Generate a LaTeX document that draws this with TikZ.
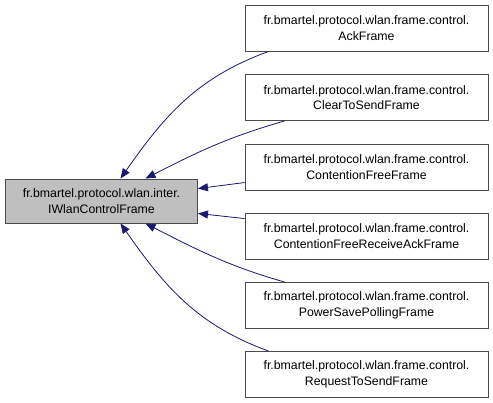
\documentclass[tikz,border=0pt]{standalone}
\usepackage{fontspec}
\setmainfont{Liberation Sans}
\usetikzlibrary{arrows.meta}
\definecolor{edgeblue}{RGB}{25,25,112}
\begin{document}
\begin{tikzpicture}[x=1pt,y=1pt,
  box/.style={draw=black!70,line width=0.9pt,fill=white,align=center,inner sep=0pt,
    font=\fontsize{12.3}{15.5}\selectfont,minimum width=243pt,minimum height=46pt},
  basebox/.style={box,fill=black!25,minimum width=192pt,minimum height=44pt},
  edge/.style={draw=edgeblue,line width=0.8pt,
    {Triangle[length=10pt,width=8pt]}-}]
\useasboundingbox (0,0) rectangle (493,-403);

\node[basebox] (base) at (101.5,-201) {fr.bmartel.protocol.wlan.inter.\\IWlanControlFrame};

\node[box] (ack) at (366.5,-28) {fr.bmartel.protocol.wlan.frame.control.\\AckFrame};
\node[box] (cts) at (366.5,-97.5) {fr.bmartel.protocol.wlan.frame.control.\\ClearToSendFrame};
\node[box] (cf) at (366.5,-167) {fr.bmartel.protocol.wlan.frame.control.\\ContentionFreeFrame};
\node[box] (cfack) at (366.5,-236) {fr.bmartel.protocol.wlan.frame.control.\\ContentionFreeReceiveAckFrame};
\node[box] (psp) at (366.5,-305.5) {fr.bmartel.protocol.wlan.frame.control.\\PowerSavePollingFrame};
\node[box] (rts) at (366.5,-374.5) {fr.bmartel.protocol.wlan.frame.control.\\RequestToSendFrame};

\draw[edge] ([xshift=19pt]base.north) to[out=55,in=200] ([xshift=24pt]ack.south west);
\draw[edge] ([xshift=44pt]base.north) to[out=27,in=196] ([xshift=40pt]cts.south west);
\draw[edge] ([yshift=-10pt]base.north east) -- ([yshift=-39pt]cf.north west);
\draw[edge] ([yshift=10pt]base.south east) -- ([yshift=-6pt]cfack.north west);
\draw[edge] ([xshift=44pt]base.south) to[out=-27,in=164] ([xshift=40pt]psp.north west);
\draw[edge] ([xshift=19pt]base.south) to[out=-55,in=160] ([xshift=24pt]rts.north west);
\end{tikzpicture}
\end{document}
